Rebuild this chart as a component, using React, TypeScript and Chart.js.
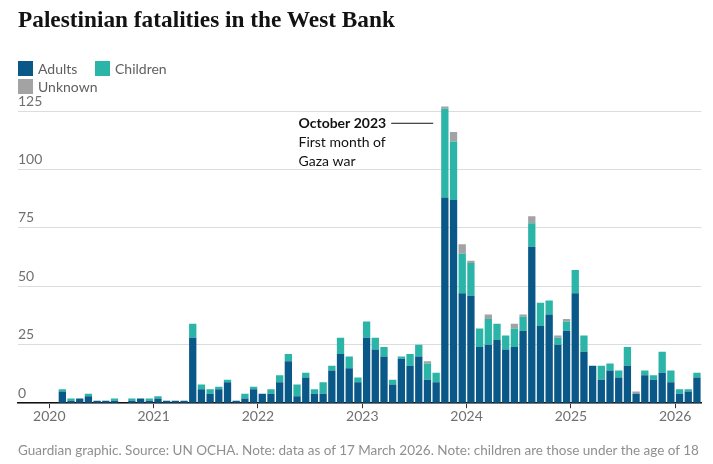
import React, { useEffect, useRef } from "react";
import { Chart, registerables } from "chart.js";

Chart.register(...registerables);

// Monthly categories, Jan 2020 – Mar 2026
const months = [
  "Jan 2020", "Feb 2020", "Mar 2020", "Apr 2020", "May 2020", "Jun 2020", "Jul 2020", "Aug 2020", "Sep 2020", "Oct 2020", "Nov 2020", "Dec 2020",
  "Jan 2021", "Feb 2021", "Mar 2021", "Apr 2021", "May 2021", "Jun 2021", "Jul 2021", "Aug 2021", "Sep 2021", "Oct 2021", "Nov 2021", "Dec 2021",
  "Jan 2022", "Feb 2022", "Mar 2022", "Apr 2022", "May 2022", "Jun 2022", "Jul 2022", "Aug 2022", "Sep 2022", "Oct 2022", "Nov 2022", "Dec 2022",
  "Jan 2023", "Feb 2023", "Mar 2023", "Apr 2023", "May 2023", "Jun 2023", "Jul 2023", "Aug 2023", "Sep 2023", "Oct 2023", "Nov 2023", "Dec 2023",
  "Jan 2024", "Feb 2024", "Mar 2024", "Apr 2024", "May 2024", "Jun 2024", "Jul 2024", "Aug 2024", "Sep 2024", "Oct 2024", "Nov 2024", "Dec 2024",
  "Jan 2025", "Feb 2025", "Mar 2025", "Apr 2025", "May 2025", "Jun 2025", "Jul 2025", "Aug 2025", "Sep 2025", "Oct 2025", "Nov 2025", "Dec 2025",
  "Jan 2026", "Feb 2026", "Mar 2026",
];

const adults = [
  0, 5, 1, 2, 3, 1, 1, 1, 0, 1, 2, 1,
  2, 1, 1, 1, 28, 6, 4, 6, 9, 1, 2, 6,
  4, 4, 9, 18, 3, 11, 4, 4, 14, 21, 15, 9,
  28, 23, 20, 8, 19, 16, 20, 10, 9, 88, 87, 47,
  46, 24, 25, 27, 23, 24, 31, 67, 33, 38, 25, 31,
  47, 22, 16, 10, 14, 11, 16, 4, 12, 10, 13, 9,
  4, 5, 11,
];

const children = [
  0, 1, 1, 0, 1, 0, 0, 1, 0, 1, 0, 1,
  1, 0, 0, 0, 6, 2, 2, 1, 1, 0, 2, 1,
  0, 2, 3, 3, 5, 2, 2, 5, 2, 7, 5, 2,
  7, 5, 4, 2, 1, 5, 5, 7, 4, 38, 25, 17,
  14, 8, 11, 7, 6, 8, 6, 10, 10, 6, 3, 4,
  10, 7, 0, 6, 3, 3, 8, 0, 2, 2, 9, 5,
  2, 1, 2,
];

const unknown = [
  0, 0, 0, 0, 0, 0, 0, 0, 0, 0, 0, 0,
  0, 0, 0, 0, 0, 0, 0, 0, 0, 0, 0, 0,
  0, 0, 0, 0, 0, 0, 0, 0, 0, 0, 0, 0,
  0, 0, 0, 0, 0, 0, 0, 1, 0, 1, 4, 4,
  1, 0, 2, 0, 0, 2, 1, 3, 0, 0, 1, 1,
  0, 0, 0, 0, 0, 0, 0, 1, 0, 0, 0, 0,
  0, 0, 0,
];

const yearLabels = ["2020", "2021", "2022", "2023", "2024", "2025", "2026"];
const yTickValues = [0, 25, 50, 75, 100, 125];

const annotationMonth = "Oct 2023";
const annotationTitle = "October 2023";
const annotationLines = ["First month of", "Gaza war"];
const annotationValue = 120;

const COLORS = {
  adults: "#0a5888",
  children: "#2ab5a8",
  unknown: "#a3a3a3",
};

const SANS = "Lato, 'Open Sans', sans-serif";

export default function App() {
  const ref = useRef<HTMLCanvasElement>(null);

  useEffect(() => {
    document.body.style.margin = "0";
    const canvas = ref.current;
    if (!canvas) return;

    const toPoints = (arr: number[]) => arr.map((v, i) => ({ x: i + 0.5, y: v }));
    const annIndex = months.indexOf(annotationMonth);

    const annotationPlugin = {
      id: "octAnnotation",
      afterDatasetsDraw(chart: any) {
        const { ctx, scales } = chart;
        const bar: any = chart.getDatasetMeta(0).data[annIndex];
        if (!bar) return;
        const barLeft = bar.x - bar.width / 2;
        const lineY = scales.y.getPixelForValue(annotationValue);
        const lineEnd = barLeft - 8;
        const lineStart = lineEnd - 42;
        ctx.save();
        ctx.strokeStyle = "#121212";
        ctx.lineWidth = 1;
        ctx.beginPath();
        ctx.moveTo(lineStart, lineY + 0.5);
        ctx.lineTo(lineEnd, lineY + 0.5);
        ctx.stroke();
        ctx.font = `bold 14px ${SANS}`;
        ctx.fillStyle = "#121212";
        ctx.textBaseline = "alphabetic";
        ctx.textAlign = "left";
        const w = ctx.measureText(annotationTitle).width;
        const left = lineStart - 5 - w;
        ctx.fillText(annotationTitle, left, lineY + 5);
        ctx.font = `14px ${SANS}`;
        annotationLines.forEach((t, k) => {
          ctx.fillText(t, left, lineY + 5 + 19 * (k + 1));
        });
        ctx.restore();
      },
    };

    const chart = new Chart(canvas, {
      type: "bar",
      data: {
        labels: months,
        datasets: [
          { label: "Adults", data: toPoints(adults) as any, backgroundColor: COLORS.adults },
          { label: "Children", data: toPoints(children) as any, backgroundColor: COLORS.children },
          { label: "Unknown", data: toPoints(unknown) as any, backgroundColor: COLORS.unknown },
        ],
      },
      options: {
        animation: false,
        responsive: false,
        layout: { padding: { left: 18, right: 11.7, top: 99.4, bottom: 39 } },
        plugins: { legend: { display: false }, tooltip: { enabled: false } },
        datasets: { bar: { categoryPercentage: 1, barPercentage: 0.84, borderWidth: 0 } },
        scales: {
          x: {
            type: "linear",
            min: -3.6,
            max: 75,
            stacked: true,
            offset: false,
            afterBuildTicks: (s: any) => {
              s.ticks = yearLabels.map((_, k) => ({ value: k * 12 }));
            },
            ticks: {
              callback: (_v: any, i: number) => yearLabels[i],
              font: { family: SANS, size: 14 },
              color: "#707070",
              padding: 0,
              maxRotation: 0,
              autoSkip: false,
            },
            grid: { drawOnChartArea: false, drawTicks: true, tickLength: 5, color: "#333333", offset: false },
            border: { display: true, color: "#121212", width: 1.5 },
          },
          y: {
            type: "linear",
            min: 0,
            max: 130,
            stacked: true,
            afterBuildTicks: (s: any) => {
              s.ticks = yTickValues.map((v) => ({ value: v }));
            },
            ticks: {
              mirror: true,
              padding: 0,
              labelOffset: -10,
              font: { family: SANS, size: 14 },
              color: "#707070",
            },
            grid: { drawTicks: false, color: "#dcdcdc", lineWidth: 1 },
            border: { display: false },
          },
        },
      },
      plugins: [annotationPlugin],
    });

    return () => chart.destroy();
  }, []);

  const legendItem = (color: string, label: string, left: number, top: number) => (
    <div style={{ position: "absolute", left, top, display: "flex", alignItems: "center", height: 15 }}>
      <div style={{ width: 15, height: 15, background: color, marginRight: 5 }} />
      <span style={{ font: `14px ${SANS}`, color: "#606060", lineHeight: "15px" }}>{label}</span>
    </div>
  );

  return (
    <div style={{ position: "relative", width: 713, height: 464, background: "#fff", overflow: "hidden" }}>
      <canvas ref={ref} width={713} height={464} style={{ position: "absolute", left: 0, top: 0, width: 713, height: 464 }} />
      <div
        style={{
          position: "absolute",
          left: 18,
          top: 8,
          font: "bold 23.3px 'Liberation Serif', serif",
          lineHeight: "23px",
          color: "#121212",
          whiteSpace: "nowrap",
        }}
      >
        Palestinian fatalities in the West Bank
      </div>
      {legendItem(COLORS.adults, "Adults", 18, 61)}
      {legendItem(COLORS.children, "Children", 95, 61)}
      {legendItem(COLORS.unknown, "Unknown", 18, 79)}
      <div
        style={{
          position: "absolute",
          left: 18,
          top: 442,
          font: `13.5px ${SANS}`,
          lineHeight: "16px",
          color: "#8f8f8f",
          whiteSpace: "nowrap",
        }}
      >
        Guardian graphic. Source: UN OCHA. Note: data as of 17 March 2026. Note: children are those under the age of 18
      </div>
    </div>
  );
}
